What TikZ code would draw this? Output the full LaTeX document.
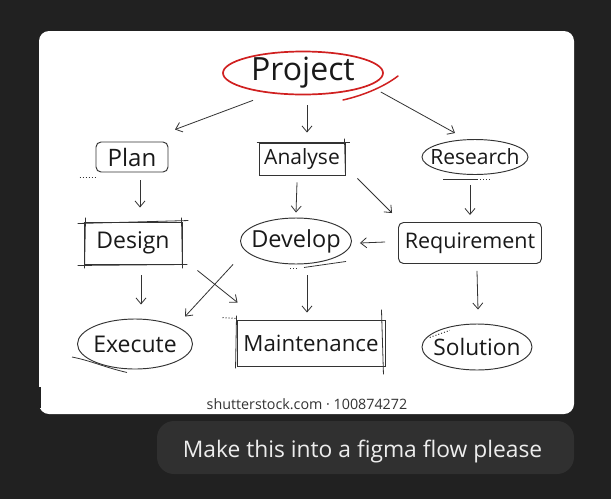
\documentclass[tikz,border=0pt]{standalone}
\usepackage{fontspec}
\setmainfont{Open Sans}
\usetikzlibrary{arrows.meta,shapes.geometric,calc}
\definecolor{bgdark}{HTML}{212121}
\definecolor{bubble}{HTML}{303030}
\definecolor{ink}{HTML}{333333}
\definecolor{redpen}{HTML}{D02020}
\tikzset{
  sk/.style={draw=ink, line width=0.95pt, text=black!90, inner sep=0pt,
             font=\fontsize{22.5}{22}\selectfont},
  boxn/.style={sk, rectangle, rounded corners=5pt},
  sqbox/.style={sk, rectangle},
  elln/.style={sk, ellipse, inner xsep=-12pt, inner ysep=-7pt},
  arr/.style={draw=ink, line width=0.8pt, -{Straight Barb[length=6pt,width=10pt]}},
  deco/.style={draw=ink, line width=0.8pt},
  dots/.style={draw=ink, line width=1pt, dotted}
}
\begin{document}
\begin{tikzpicture}[x=1pt,y=-1pt]
\useasboundingbox (0,0) rectangle (611,499);
\fill[bgdark] (0,0) rectangle (611,499);
\fill[white, rounded corners=10pt] (39,31) rectangle (574,414);
\fill[bgdark] (39,387) rectangle (41,408);
\fill[bubble, rounded corners=17pt] (157,421) rectangle (574,474);
\node[text=white!93!black, font=\fontsize{22.8}{23}\selectfont, anchor=base] (msg) at (362.5,457) {Make this into a figma flow please};
\node[text=black!80, font=\fontsize{14.3}{14}\selectfont, anchor=base] (wm) at (307,409) {shutterstock.com · 100874272};

% nodes
\node[draw=redpen, line width=1.7pt, ellipse, minimum width=160pt, minimum height=43pt, inner xsep=-12pt, inner ysep=-8pt,
      font=\fontsize{32}{32}\selectfont, text=black!90] (project) at (303,73) {Project};
\node[boxn, minimum width=72pt, minimum height=30pt, font=\fontsize{24}{24}\selectfont] (plan) at (132,157) {Plan};
\node[sqbox, minimum width=86pt, minimum height=32pt, font=\fontsize{21}{21}\selectfont] (analyse) at (302,159) {Analyse};
\node[elln, minimum width=106pt, minimum height=35pt, font=\fontsize{21}{21}\selectfont] (research) at (475,157) {Research};
\node[sqbox, minimum width=98pt, minimum height=42pt, font=\fontsize{23}{23}\selectfont] (design) at (133,243) {Design};
\node[elln, minimum width=111pt, minimum height=46pt, font=\fontsize{23.5}{23}\selectfont] (develop) at (296,241) {Develop};
\node[boxn, minimum width=143pt, minimum height=41pt, font=\fontsize{21.5}{21}\selectfont] (requirement) at (470,243) {Requirement};
\node[elln, minimum width=115pt, minimum height=50pt, font=\fontsize{23}{23}\selectfont] (execute) at (135,344) {Execute};
\node[sqbox, minimum width=148pt, minimum height=46pt, font=\fontsize{22.3}{22}\selectfont] (maintenance) at (311,343) {Maintenance};
\node[elln, minimum width=110pt, minimum height=46pt, font=\fontsize{22.7}{22}\selectfont] (solution) at (477,347) {Solution};

% red swoosh
\draw[redpen, line width=1.5pt, line cap=round] (343,100) .. controls (365,95) and (385,86) .. (398,76);

% connectors
\draw[arr] ($(project.south)+(-50,5)$) -- ($(plan.north)+(43,-12)$);
\draw[arr] ($(project.south)+(4,10)$) -- ($(analyse.north)+(5,-10)$);
\draw[arr] ($(project.east)+(-3,19)$) -- ($(research.north)+(-20,-6)$);
\draw[arr] ($(plan.south)+(8,8)$) -- ($(design.north)+(7,-14)$);
\draw[arr] ($(analyse.south)+(-5,7)$) -- ($(develop.north)+(0,-5)$);
\draw[arr] ($(analyse.south east)+(12,3)$) -- ($(requirement.north west)+(-6,-9)$);
\draw[arr] ($(research.south)+(-5,10)$) -- ($(requirement.north)+(0,-7)$);
\draw[arr] ($(requirement.west)+(-13,-1)$) -- ($(develop.east)+(8,2)$);
\draw[arr] ($(design.south)+(8,11)$) -- ($(execute.north)+(6,-14)$);
\draw[arr] ($(develop.south)+(-63,0)$) -- ($(execute.north)+(50,-2)$);
\draw[arr] ($(design.south east)+(15,6)$) -- ($(maintenance.north west)+(1,-17)$);
\draw[arr] ($(develop.south)+(11,11)$) -- ($(maintenance.north)+(-4,-7)$);
\draw[arr] ($(requirement.south)+(7,7)$) -- ($(solution.north)+(1,-14)$);

% sketch decorations
\draw[dots] ($(plan.south west)+(-16,5)$) -- ($(plan.south west)+(0,5)$);
\draw[deco] ($(analyse.north west)+(-2,0)$) -- ($(analyse.north east)+(5,0)$);
\draw[deco] ($(analyse.north east)+(-1,-4)$) -- ($(analyse.south east)+(0,0)$);
\draw[deco] ($(design.north west)+(-6,2)$) -- ($(design.north east)+(6,-1)$);
\draw[deco] ($(design.south west)+(-6,1)$) -- ($(design.south east)+(5,0)$);
\draw[deco] ($(design.north west)+(2,-4)$) -- ($(design.south west)+(1,4)$);
\draw[deco] ($(design.north east)+(-1,-4)$) -- ($(design.south east)+(0,4)$);
\draw[deco] ($(research.south)+(-32,4)$) -- ($(research.south)+(2,4)$);
\draw[dots] ($(research.south)+(2,5)$) -- ($(research.south)+(16,5)$);
\draw[dots] ($(develop.south)+(-6,4)$) -- ($(develop.south)+(2,4)$);
\draw[deco] ($(develop.south)+(8,3)$) -- ($(develop.south)+(50,-3)$);
\draw[deco] ($(execute.west)+(-5,13)$) .. controls ($(execute.west)+(15,17)$) and ($(execute.south)+(-30,-2)$) .. ($(execute.south)+(-8,3)$);
\draw[dots] ($(maintenance.north west)+(-14,-2)$) -- ($(maintenance.north west)+(0,-1)$);
\draw[deco] ($(maintenance.north west)+(0,-4)$) -- ($(maintenance.south west)+(-1,2)$);
\draw[deco] ($(maintenance.north east)+(-4,-10)$) -- ($(maintenance.south east)+(-2,8)$);
\draw[dots] ($(solution.north west)+(-8,7)$) -- ($(solution.north west)+(12,0)$);
\end{tikzpicture}
\end{document}
